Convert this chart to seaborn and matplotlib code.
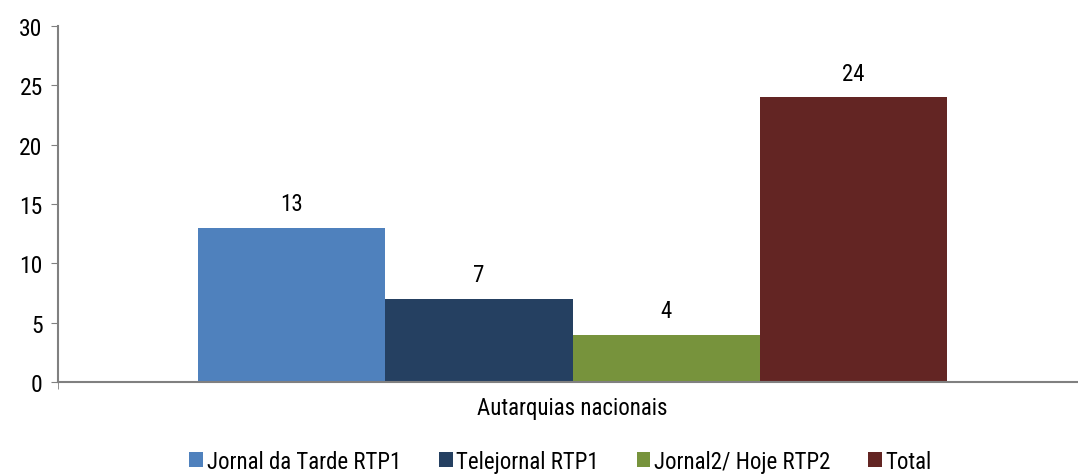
import pandas as pd
import matplotlib.pyplot as plt
import seaborn as sns
from matplotlib import font_manager

categories = ['Autarquias nacionais']
series = ['Jornal da Tarde RTP1', 'Telejornal RTP1', 'Jornal2/ Hoje RTP2', 'Total']
values = [13, 7, 4, 24]
colors = ['#4F81BD', '#254061', '#77933C', '#632523']

df = pd.DataFrame({'Categoria': categories * len(series), 'Programa': series, 'Valor': values})

sns.set_style('white')
names = {f.name for f in font_manager.fontManager.ttflist}
narrow = [n for n in ['Liberation Sans Narrow', 'Arial Narrow', 'Roboto Condensed', 'DejaVu Sans Condensed'] if n in names]
plt.rcParams['font.family'] = narrow + ['DejaVu Sans']
plt.rcParams['font.stretch'] = 'condensed'
plt.rcParams['text.color'] = 'black'
plt.rcParams['xtick.color'] = 'black'
plt.rcParams['ytick.color'] = 'black'

fs = 16.5

fig = plt.figure(figsize=(10.78, 4.77), dpi=100)
ax = fig.add_axes([58 / 1078, 1 - 383 / 477, 1019 / 1078, 356 / 477])

sns.barplot(data=df, x='Categoria', y='Valor', hue='Programa', palette=colors,
            width=0.735, saturation=1, linewidth=0, ax=ax, legend=True)

for cont in ax.containers:
    ax.bar_label(cont, padding=9, fontsize=fs)

ax.set_ylim(0, 30)
ax.set_xlim(-0.505, 0.495)
ax.set_yticks(range(0, 31, 5))
ax.tick_params(axis='y', labelsize=17, length=5, color='#808080', direction='out', left=True, pad=6)
ax.tick_params(axis='x', labelsize=fs, length=0, pad=10)
ax.set_xticks([-0.505], minor=True)
ax.tick_params(axis='x', which='minor', length=5, color='#808080', bottom=True)
ax.set_xlabel('')
ax.set_ylabel('')

for side in ['top', 'right']:
    ax.spines[side].set_visible(False)
for side in ['left', 'bottom']:
    ax.spines[side].set_color('#808080')
    ax.spines[side].set_linewidth(1.5)

ax.legend(loc='center', bbox_to_anchor=(0.493, -0.222), ncol=4, frameon=False,
          fontsize=fs, handlelength=0.6, handleheight=0.6, handletextpad=0.15, columnspacing=1.65)

plt.savefig('out.png', dpi=100)
